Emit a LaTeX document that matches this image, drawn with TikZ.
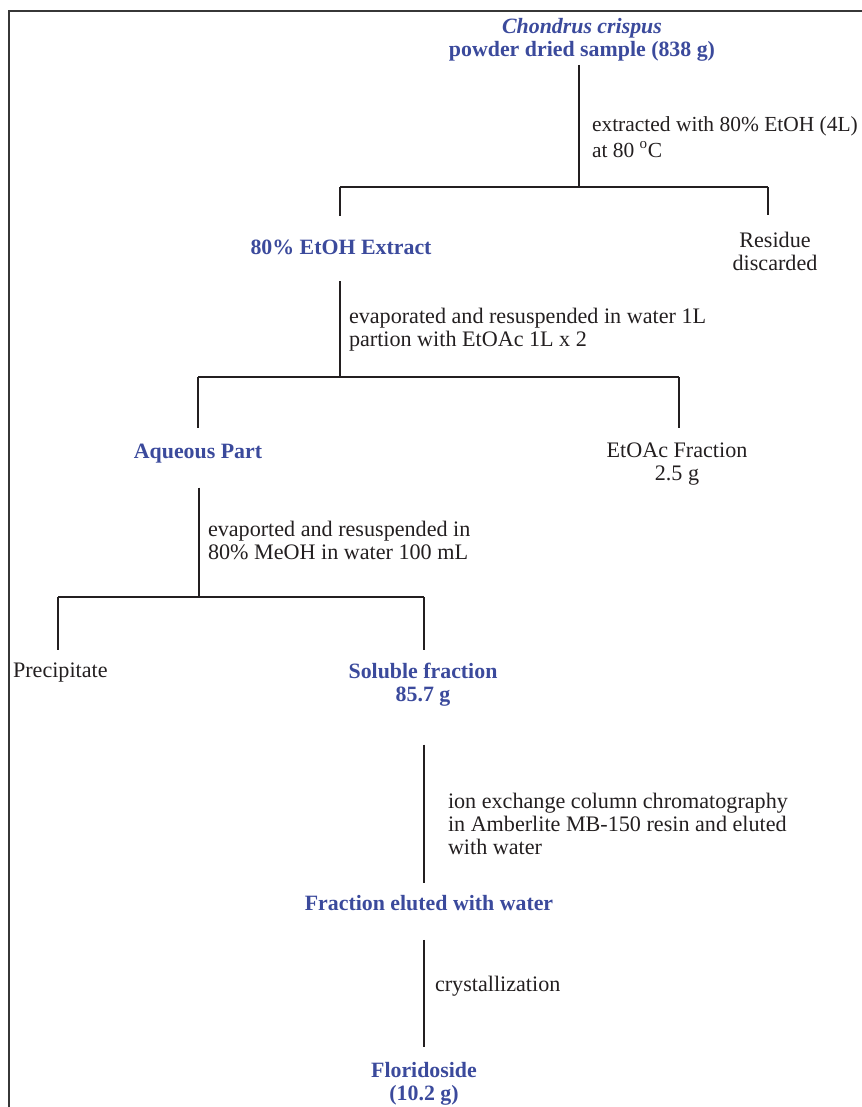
\documentclass[tikz,border=0pt]{standalone}
\usepackage{fontspec}
\setmainfont{Liberation Serif}
\definecolor{bluetxt}{RGB}{59,74,156}
\definecolor{ink}{RGB}{35,31,32}
\definecolor{framec}{RGB}{55,55,55}
\begin{document}
\begin{tikzpicture}[x=0.75pt,y=-0.75pt,
  every node/.style={inner sep=0pt, outer sep=0pt, align=center, text=ink,
    font=\fontsize{16.6}{17.3}\selectfont},
  stage/.style={text=bluetxt, font=\fontsize{16.4}{17.3}\selectfont\bfseries},
  note/.style={anchor=west, align=left},
  conn/.style={draw=ink, line width=1.1pt}]
\useasboundingbox (0,0) rectangle (861,1107);
\draw[framec, line width=1.6pt] (9,1125) -- (9,11) -- (880,11);

% nodes
\node[stage] (top) at (582,40) {\textit{Chondrus crispus}\\powder dried sample (838 g)};
\node[note, font=\fontsize{16.1}{17.3}\selectfont] (l1) at (592,137) {extracted with 80\% EtOH (4L)\\[2pt]at 80 \textsuperscript{o}C};
\node[stage] (ext) at (341,247) {80\% EtOH Extract};
\node (res) at (775,251) {Residue\\discarded};
\node[note] (l2) at (349,329.5) {evaporated and resuspended in water 1L\\partion with EtOAc 1L x 2};
\node[stage] (aq) at (198,454) {Aqueous Part};
\node (etoac) at (677,464.5) {EtOAc Fraction\\2.5 g};
\node[note] (l3) at (208,540.5) {evaported and resuspended in\\80\% MeOH in water 100 mL};
\node[anchor=west] (prec) at (13,673) {Precipitate};
\node[stage] (sol) at (423,684.5) {Soluble fraction\\85.7 g};
\node[note] (l4) at (448,824) {ion exchange column chromatography\\in Amberlite MB-150 resin and eluted\\with water};
\node[stage] (elu) at (429,903.5) {Fraction eluted with water};
\node[note] (l5) at (435,986) {crystallization};
\node[stage] (flo) at (424,1083.5) {Floridoside\\(10.2 g)};

% junctions
\coordinate (j1) at (579,187);
\coordinate (b1L) at (340,187);
\coordinate (b1R) at (768,187);
\coordinate (j2) at (340,377);
\coordinate (b2L) at (198,377);
\coordinate (b2R) at (679,377);
\coordinate (j3) at (199,597);
\coordinate (b3L) at (58,597);
\coordinate (b3R) at (424,597);

% connectors
\draw[conn, shorten <=2.5pt] (j1 |- top.south) -- (j1);
\draw[conn] (b1L) -- (b1R);
\draw[conn, shorten >=17.7pt] (b1L) -- (b1L |- ext.north);
\draw[conn, shorten >=12.8pt] (b1R) -- (b1R |- res.north);

\draw[conn, shorten <=20pt] (j2 |- ext.south) -- (j2);
\draw[conn] (b2L) -- (b2R);
\draw[conn, shorten >=12pt] (b2L) -- (b2L |- aq.north);
\draw[conn, shorten >=11.2pt] (b2R) -- (b2R |- etoac.north);

\draw[conn, shorten <=18pt] (j3 |- aq.south) -- (j3);
\draw[conn] (b3L) -- (b3R);
\draw[conn, shorten >=9.7pt] (b3L) -- (b3L |- prec.north);
\draw[conn, shorten >=9.7pt] (b3R) -- (b3R |- sol.north);

\draw[conn, shorten <=28.9pt, shorten >=9.4pt] (b3R |- sol.south) -- (b3R |- elu.north);
\draw[conn, shorten <=21.4pt, shorten >=11pt] (b3R |- elu.south) -- (b3R |- flo.north);
\end{tikzpicture}
\end{document}
